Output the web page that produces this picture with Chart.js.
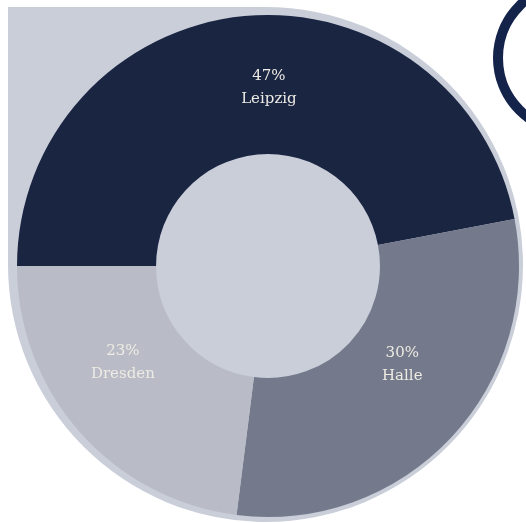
<!DOCTYPE html>
<html>
<head>
<meta charset="utf-8">
<script src="https://cdn.jsdelivr.net/npm/chart.js@4"></script>
<style>
  html, body { margin: 0; padding: 0; background: #fff; }
  #wrap { position: relative; width: 526px; height: 523px; overflow: hidden; }
  #backdrop {
    position: absolute; left: 8px; top: 7px; width: 515px; height: 515px;
    background: #c9ced9; border-radius: 0 50% 50% 50%;
  }
  #ring {
    position: absolute; left: 493px; top: -21px; width: 138px; height: 138px;
    border: 10px solid #13234a; border-radius: 50%;
  }
  #pie { position: absolute; left: 0; top: 0; }
</style>
</head>
<body>
<div id="wrap">
  <div id="backdrop"></div>
  <div id="ring"></div>
  <canvas id="pie" width="526" height="523"></canvas>
</div>
<script>
const cities = ['Leipzig', 'Halle', 'Dresden'];
const shares = [47, 30, 23];
const sliceColors = ['#1a2542', '#747a8b', '#b9bcc6'];

// writes "NN%" and the city name on each slice, nudged off the centroid
const sliceLabels = {
  id: 'sliceLabels',
  afterDatasetsDraw(chart, args, opts) {
    const ctx = chart.ctx;
    const arcs = chart.getDatasetMeta(0).data;
    ctx.save();
    ctx.font = opts.font;
    ctx.fillStyle = opts.color;
    ctx.textAlign = 'center';
    ctx.textBaseline = 'middle';
    arcs.forEach((arc, i) => {
      const p = arc.tooltipPosition();
      const n = opts.nudge[i] || [0, 0];
      const x = p.x + n[0];
      const y = p.y + n[1];
      ctx.fillText(shares[i] + '%', x, y - opts.lineGap / 2);
      ctx.fillText(cities[i], x, y + opts.lineGap / 2);
    });
    ctx.restore();
  }
};

new Chart(document.getElementById('pie'), {
  type: 'doughnut',
  data: {
    labels: cities,
    datasets: [{
      data: shares,
      backgroundColor: sliceColors,
      borderWidth: 0,
      hoverOffset: 0
    }]
  },
  options: {
    responsive: false,
    animation: false,
    rotation: -90,
    cutout: '44.6%',
    layout: { padding: { left: 17, top: 15, right: 7, bottom: 6 } },
    plugins: {
      legend: { display: false },
      tooltip: { enabled: false },
      sliceLabels: {
        font: '15px "DejaVu Serif"',
        color: '#eeebe4',
        lineGap: 23,
        nudge: [[18, 2], [2, -26], [-9, -23]]
      }
    }
  },
  plugins: [sliceLabels]
});
</script>
</body>
</html>
